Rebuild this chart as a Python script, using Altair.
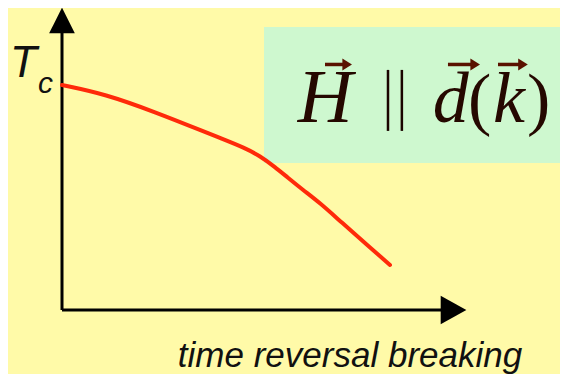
import altair as alt
import pandas as pd

# --- data (normalised: x = time reversal breaking, y = Tc) ---
curve_x = [0.0, 0.1054, 0.2279, 0.3505, 0.3873, 0.4485, 0.4853, 0.5221, 0.5515, 0.5907,
           0.6324, 0.6814, 0.7623, 0.8039]
curve_tc = [0.745, 0.7152, 0.6556, 0.5894, 0.5695, 0.5364, 0.5099, 0.4735, 0.4404, 0.3974,
            0.3543, 0.2947, 0.1987, 0.1490]

# axes (from, to)
axis_x = [0.0, 0.0]
axis_x2 = [0.0, 0.96]
axis_y = [0.0, 0.0]
axis_y2 = [0.94, 0.0]

# arrowheads of the axes
head_x = [0.0, 0.9596]
head_y = [0.9586, 0.0]
head_shape = ["M0,-1L1,1L-1,1Z", "M1,0L-1,-1.1L-1,1.1Z"]

# highlight box
box_x, box_x2, box_y, box_y2 = [0.4951], [1.25], [0.487], [0.937]

# parallel sign bars
par_x = [0.799, 0.833]
par_y = [0.593, 0.593]
par_y2 = [0.795, 0.795]

# vector arrows over H, d, k
vec_x = [0.6446, 0.946, 1.0686]
vec_x2 = [0.6985, 1.007, 1.127]
vec_y = [0.813, 0.813, 0.813]
vec_head_x = [0.696, 1.0098, 1.127]

# labels
lab_text = ["T", "c", "time reversal breaking"]
lab_x = [-0.1275, -0.0588, 0.284]
lab_y = [0.772, 0.719, -0.189]
lab_size = [44, 30, 35]

# math: italic letters and upright parentheses
mi_text = ["H", "d", "k"]
mi_x = [0.578, 0.909, 1.0564]
mi_y = [0.623, 0.623, 0.623]
mi_size = [76, 72, 72]

mp_text = ["(", ")"]
mp_x = [0.995, 1.1397]
mp_y = [0.623, 0.623]

XS = alt.Scale(domain=[0, 1], range=[54, 462])
YS = alt.Scale(domain=[0, 1], range=[302, 0])


def X(f="x"):
    return alt.X(f"{f}:Q", scale=XS, axis=None)


def Y(f="y"):
    return alt.Y(f"{f}:Q", scale=YS, axis=None)


box = alt.Chart(pd.DataFrame({"x": box_x, "x2": box_x2, "y": box_y, "y2": box_y2})).mark_rect(
    color="#cef8cf"
).encode(x=X(), x2="x2:Q", y=Y(), y2="y2:Q")

axes = alt.Chart(pd.DataFrame({"x": axis_x, "x2": axis_x2, "y": axis_y, "y2": axis_y2})).mark_rule(
    color="black", strokeWidth=3
).encode(x=X(), x2="x2:Q", y=Y(), y2="y2:Q")

heads = alt.Chart(pd.DataFrame({"x": head_x, "y": head_y, "s": head_shape})).mark_point(
    filled=True, color="black", opacity=1, size=660
).encode(x=X(), y=Y(), shape=alt.Shape("s:N", scale=None, legend=None))

curve = alt.Chart(pd.DataFrame({"x": curve_x, "y": curve_tc})).mark_line(
    color="#ff2a0a", strokeWidth=4, interpolate="basis", strokeCap="round"
).encode(x=X(), y=Y())

par = alt.Chart(pd.DataFrame({"x": par_x, "y": par_y, "y2": par_y2})).mark_rule(
    color="#1a0500", strokeWidth=2.5
).encode(x=X(), y=Y(), y2="y2:Q")

vec = alt.Chart(pd.DataFrame({"x": vec_x, "x2": vec_x2, "y": vec_y})).mark_rule(
    color="#5a1200", strokeWidth=3.5
).encode(x=X(), x2="x2:Q", y=Y())

vec_heads = alt.Chart(pd.DataFrame({"x": vec_head_x, "y": vec_y})).mark_point(
    filled=True, color="#5a1200", opacity=1, size=144, shape="M1,0L-0.6,-1L-0.6,1Z"
).encode(x=X(), y=Y())

labels = alt.Chart(pd.DataFrame({"x": lab_x, "y": lab_y, "t": lab_text, "s": lab_size})).mark_text(
    align="left", baseline="alphabetic", font="Liberation Sans", fontStyle="italic", color="#111111"
).encode(x=X(), y=Y(), text="t:N", size=alt.Size("s:Q", scale=None, legend=None))

math_i = alt.Chart(pd.DataFrame({"x": mi_x, "y": mi_y, "t": mi_text, "s": mi_size})).mark_text(
    align="left", baseline="alphabetic", font="Liberation Serif", fontStyle="italic", color="#250800"
).encode(x=X(), y=Y(), text="t:N", size=alt.Size("s:Q", scale=None, legend=None))

math_p = alt.Chart(pd.DataFrame({"x": mp_x, "y": mp_y, "t": mp_text})).mark_text(
    align="left", baseline="alphabetic", font="Liberation Serif", fontSize=70, color="#250800"
).encode(x=X(), y=Y(), text="t:N")

chart = alt.layer(box, axes, heads, curve, par, vec, vec_heads, labels, math_i, math_p).properties(
    width=552, height=366, background="#fffaa8", padding=0, autosize=alt.AutoSizeParams(type="none")
).configure_view(stroke=None)

chart.save("out.html", embed_options={"renderer": "svg", "actions": False})
